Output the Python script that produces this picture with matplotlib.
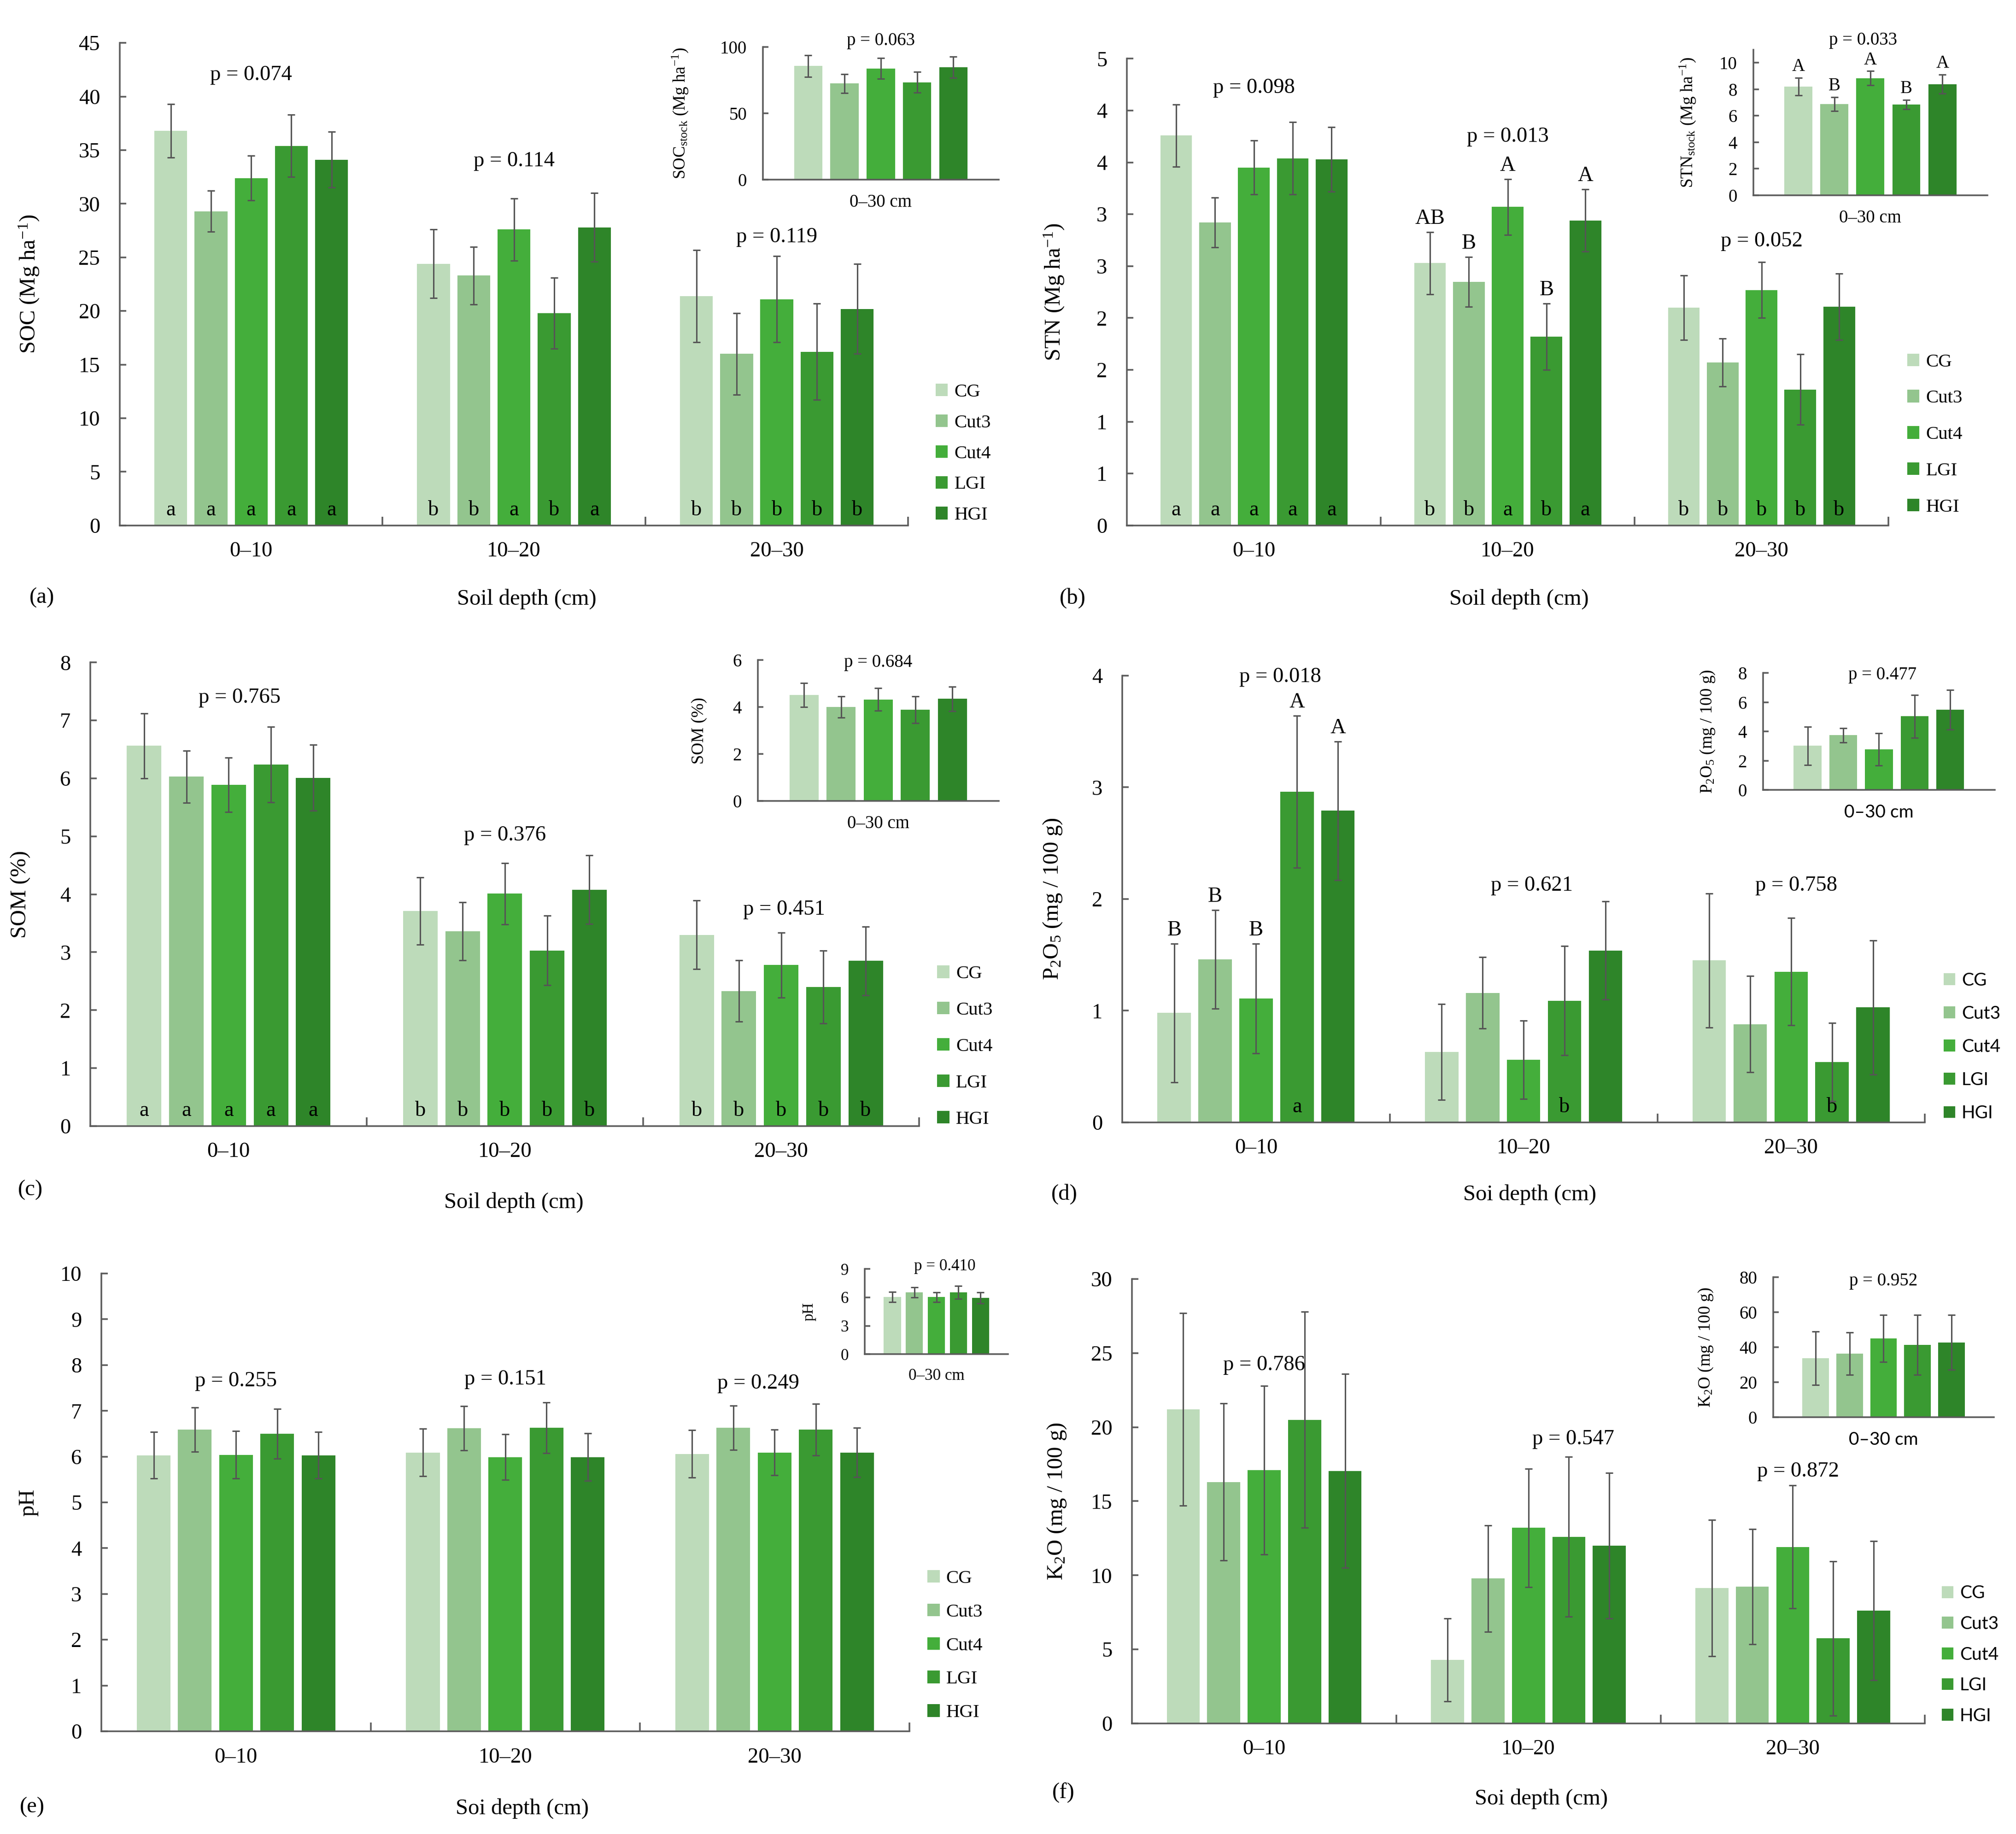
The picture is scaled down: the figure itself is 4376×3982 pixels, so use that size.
import numpy as np
import matplotlib
matplotlib.use('Agg')
import matplotlib.pyplot as plt
from matplotlib.patches import Patch

plt.rcParams['font.family'] = ['Liberation Serif', 'DejaVu Serif']
plt.rcParams['mathtext.fontset'] = 'custom'
plt.rcParams['mathtext.rm'] = 'Liberation Serif'
plt.rcParams['mathtext.it'] = 'Liberation Serif:italic'

# ---------------- data ----------------
GROUPS = ['0–10', '10–20', '20–30']
TREATMENTS = ['CG', 'Cut3', 'Cut4', 'LGI', 'HGI']
COLORS = ['#BDDBBA', '#93C58E', '#44AE3B', '#3A9A32', '#2E8529']

# (a) SOC
soc_mean = [[36.8, 29.3, 32.4, 35.4, 34.1],
            [24.4, 23.3, 27.6, 19.8, 27.8],
            [21.4, 16.0, 21.1, 16.2, 20.2]]
soc_err = [[2.5, 1.9, 2.1, 2.9, 2.6],
           [3.2, 2.7, 2.9, 3.3, 3.2],
           [4.3, 3.8, 4.0, 4.5, 4.2]]
soc_p = ['p = 0.074', 'p = 0.114', 'p = 0.119']
soc_low = [['a', 'a', 'a', 'a', 'a'], ['b', 'b', 'a', 'b', 'a'], ['b', 'b', 'b', 'b', 'b']]
socstock_mean = [85.6, 72.5, 83.8, 73.4, 84.7]
socstock_err = [8.1, 7.1, 7.8, 7.7, 8.1]
socstock_p = 'p = 0.063'

# (b) STN
stn_mean = [[3.76, 2.92, 3.45, 3.54, 3.53],
            [2.53, 2.35, 3.07, 1.82, 2.94],
            [2.10, 1.57, 2.27, 1.31, 2.11]]
stn_err = [[0.30, 0.24, 0.26, 0.35, 0.31],
           [0.30, 0.24, 0.27, 0.32, 0.30],
           [0.31, 0.23, 0.27, 0.34, 0.32]]
stn_p = ['p = 0.098', 'p = 0.013', 'p = 0.052']
stn_low = [['a', 'a', 'a', 'a', 'a'], ['b', 'b', 'a', 'b', 'a'], ['b', 'b', 'b', 'b', 'b']]
stn_up = [['', '', '', '', ''], ['AB', 'B', 'A', 'B', 'A'], ['', '', '', '', '']]
stn_ticks = [0, 0.5, 1, 1.5, 2, 2.5, 3, 3.5, 4, 4.5]
stn_ticklabels = ['0', '1', '1', '2', '2', '3', '3', '4', '4', '5']
stnstock_mean = [8.20, 6.87, 8.84, 6.84, 8.39]
stnstock_err = [0.67, 0.53, 0.53, 0.35, 0.71]
stnstock_up = ['A', 'B', 'A', 'B', 'A']
stnstock_p = 'p = 0.033'

# (c) SOM
som_mean = [[6.56, 6.03, 5.89, 6.24, 6.01],
            [3.71, 3.36, 4.01, 3.03, 4.08],
            [3.30, 2.33, 2.78, 2.40, 2.85]]
som_err = [[0.56, 0.45, 0.47, 0.65, 0.57],
           [0.58, 0.50, 0.53, 0.60, 0.59],
           [0.59, 0.53, 0.56, 0.63, 0.59]]
som_p = ['p = 0.765', 'p = 0.376', 'p = 0.451']
som_low = [['a', 'a', 'a', 'a', 'a'], ['b', 'b', 'b', 'b', 'b'], ['b', 'b', 'b', 'b', 'b']]
somstock_mean = [4.52, 4.00, 4.32, 3.88, 4.35]
somstock_err = [0.51, 0.45, 0.48, 0.57, 0.52]
somstock_p = 'p = 0.684'

# (d) P2O5
p2o5_mean = [[0.98, 1.46, 1.11, 2.96, 2.79],
             [0.63, 1.16, 0.56, 1.09, 1.54],
             [1.45, 0.88, 1.35, 0.54, 1.03]]
p2o5_err = [[0.62, 0.44, 0.49, 0.68, 0.62],
            [0.43, 0.32, 0.35, 0.49, 0.44],
            [0.60, 0.43, 0.48, 0.35, 0.60]]
p2o5_p = ['p = 0.018', 'p = 0.621', 'p = 0.758']
p2o5_low = [['', '', '', 'a', ''], ['', '', '', 'b', ''], ['', '', '', 'b', '']]
p2o5_up = [['B', 'B', 'B', 'A', 'A'], ['', '', '', '', ''], ['', '', '', '', '']]
p2o5stock_mean = [3.02, 3.74, 2.78, 5.03, 5.48]
p2o5stock_err = [1.31, 0.48, 1.10, 1.47, 1.34]
p2o5stock_p = 'p = 0.477'

# (e) pH
ph_mean = [[6.03, 6.59, 6.04, 6.50, 6.03],
           [6.09, 6.62, 5.99, 6.63, 5.99],
           [6.06, 6.63, 6.09, 6.59, 6.09]]
ph_err = [[0.51, 0.48, 0.52, 0.54, 0.51],
          [0.52, 0.48, 0.50, 0.55, 0.52],
          [0.52, 0.48, 0.50, 0.56, 0.54]]
ph_p = ['p = 0.255', 'p = 0.151', 'p = 0.249']
phstock_mean = [6.03, 6.53, 6.03, 6.53, 5.95]
phstock_err = [0.54, 0.54, 0.50, 0.66, 0.58]
phstock_p = 'p = 0.410'

# (f) K2O
k2o_mean = [[21.2, 16.3, 17.1, 20.5, 17.05],
            [4.28, 9.78, 13.2, 12.6, 12.0],
            [9.15, 9.23, 11.92, 5.74, 7.61]]
k2o_err = [[6.5, 5.3, 5.7, 7.3, 6.55],
           [2.8, 3.6, 4.0, 5.4, 4.9],
           [4.6, 3.9, 4.15, 5.2, 4.7]]
k2o_p = ['p = 0.786', 'p = 0.547', 'p = 0.872']
k2ostock_mean = [33.7, 36.4, 44.9, 41.3, 42.7]
k2ostock_err = [15.2, 12.1, 13.4, 17.2, 15.6]
k2ostock_p = 'p = 0.952'

# ---------------- drawing helpers ----------------
SPINE = '#5a5a5a'
ERRC = '#555555'
OFFS = (np.arange(5) - 2) * 0.153
SANS = ['Lato', 'DejaVu Sans']


def style_axes(ax):
    for s in ['top', 'right']:
        ax.spines[s].set_visible(False)
    for s in ['left', 'bottom']:
        ax.spines[s].set_color(SPINE)
        ax.spines[s].set_linewidth(0.9)


def main_panel(ax, means, errs, ylim, yticks, ylabel, ylab_x, p_texts, p_pos,
               yticklabels=None, low=None, up=None):
    means = np.array(means)
    errs = np.array(errs)
    style_axes(ax)
    for t in range(5):
        x = np.arange(3) + OFFS[t]
        ax.bar(x, means[:, t], width=0.125, color=COLORS[t], zorder=2)
        ax.errorbar(x, means[:, t], yerr=errs[:, t], fmt='none', ecolor=ERRC,
                    elinewidth=0.8, capsize=2, capthick=0.8, zorder=3)
        for g in range(3):
            if low is not None and low[g][t]:
                ax.annotate(low[g][t], (x[g], 0), xytext=(0, 3), textcoords='offset points',
                            ha='center', va='bottom', fontsize=12, zorder=4)
            if up is not None and up[g][t]:
                ax.annotate(up[g][t], (x[g], means[g, t] + errs[g, t]), xytext=(0, 2),
                            textcoords='offset points', ha='center', va='bottom', fontsize=12)
    for txt, (px, py) in zip(p_texts, p_pos):
        ax.text(px, py, txt, ha='center', va='center', fontsize=12)
    ax.set_xlim(-0.5, 2.5)
    ax.set_ylim(0, ylim)
    ax.set_xticks([0, 1, 2])
    ax.set_xticklabels(GROUPS, fontsize=12)
    ax.set_xticks([0.5, 1.5, 2.5], minor=True)
    ax.tick_params(axis='x', which='major', length=0, pad=9)
    ax.tick_params(axis='x', which='minor', direction='in', length=5, color=SPINE, width=0.9)
    ax.set_yticks(yticks)
    if yticklabels is not None:
        ax.set_yticklabels(yticklabels)
    ax.tick_params(axis='y', direction='in', length=3.5, color=SPINE, width=0.9,
                   pad=11, labelsize=12)
    ax.set_ylabel(ylabel, fontsize=12.5)
    ax.yaxis.set_label_coords(ylab_x, 0.5)


def inset_panel(ax, means, errs, ylim, yticks, ylabel, ylab_x, p_text, p_pos,
                up=None, xlab_family=None, fs=10):
    style_axes(ax)
    x = np.arange(5)
    ax.bar(x, means, width=0.78, color=COLORS, zorder=2)
    ax.errorbar(x, means, yerr=errs, fmt='none', ecolor=ERRC, elinewidth=0.8,
                capsize=2, capthick=0.8, zorder=3)
    if up is not None:
        for i in range(5):
            ax.annotate(up[i], (x[i], means[i] + errs[i]), xytext=(0, 1.5),
                        textcoords='offset points', ha='center', va='bottom', fontsize=fs)
    ax.text(p_pos[0], p_pos[1], p_text, ha='center', va='center', fontsize=fs, clip_on=False)
    ax.set_xlim(-1.25, 5.25)
    ax.set_ylim(0, ylim)
    ax.set_xticks([])
    ax.set_yticks(yticks)
    ax.tick_params(axis='y', direction='in', length=3, color=SPINE, width=0.9,
                   pad=9, labelsize=fs)
    if xlab_family:
        ax.set_xlabel('0–30 cm', fontsize=fs, labelpad=8, family=xlab_family)
    else:
        ax.set_xlabel('0–30 cm', fontsize=fs, labelpad=8)
    ax.set_ylabel(ylabel, fontsize=fs - 0.5)
    ax.yaxis.set_label_coords(ylab_x, 0.5)


def add_legend(ax, x, y, row_px, fs=10.5, family=None):
    handles = [Patch(facecolor=c, edgecolor='none') for c in COLORS]
    row_pt = row_px / 280 * 72
    prop = {'size': fs}
    if family:
        prop['family'] = family
    ax.legend(handles, TREATMENTS, loc='center left', bbox_to_anchor=(x, y),
              bbox_transform=fig.transFigure, frameon=False, borderpad=0,
              borderaxespad=0, handlelength=0.65, handleheight=0.65,
              handletextpad=0.35, labelspacing=row_pt / fs - 0.91, prop=prop)


fig = plt.figure(figsize=(4376 / 280, 3982 / 280), dpi=280)

# (a)
ax = fig.add_axes([0.0594, 0.7135, 0.3911, 0.2631])
main_panel(ax, soc_mean, soc_err, 45, np.arange(0, 46, 5), 'SOC (Mg ha$^{-1}$)', -0.1,
           soc_p, [(0, 42.0), (1, 34.0), (2, 26.9)], low=soc_low)
add_legend(ax, 0.4641, 0.7526, 67)
ins = fig.add_axes([0.3784, 0.902, 0.117, 0.0724])
inset_panel(ins, socstock_mean, socstock_err, 100, [0, 50, 100],
            'SOC$_{\\mathrm{stock}}$ (Mg ha$^{-1}$)', -0.31, socstock_p, (2, 104.8))

# (b)
ax = fig.add_axes([0.559, 0.7135, 0.3777, 0.2545])
main_panel(ax, stn_mean, stn_err, 4.5, stn_ticks, 'STN (Mg ha$^{-1}$)', -0.08,
           stn_p, [(0, 4.22), (1, 3.75), (2, 2.74)], yticklabels=stn_ticklabels,
           low=stn_low, up=stn_up)
add_legend(ax, 0.946, 0.763, 79)
ins = fig.add_axes([0.8697, 0.8936, 0.1161, 0.0794])
inset_panel(ins, stnstock_mean, stnstock_err, 11, [0, 2, 4, 6, 8, 10],
            'STN$_{\\mathrm{stock}}$ (Mg ha$^{-1}$)', -0.24, stnstock_p, (1.8, 11.7),
            up=stnstock_up)

# (c)
ax = fig.add_axes([0.0449, 0.386, 0.4111, 0.2528])
main_panel(ax, som_mean, som_err, 8, np.arange(0, 9, 1), 'SOM (%)', -0.072,
           som_p, [(0.04, 7.39), (1, 5.02), (2.01, 3.74)], low=som_low)
add_legend(ax, 0.4649, 0.4293, 79)
ins = fig.add_axes([0.3758, 0.5633, 0.1196, 0.0768])
inset_panel(ins, somstock_mean, somstock_err, 6, [0, 2, 4, 6],
            'SOM (%)', -0.21, somstock_p, (2, 5.9))

# (d)
ax = fig.add_axes([0.5567, 0.388, 0.3981, 0.2436])
main_panel(ax, p2o5_mean, p2o5_err, 4, np.arange(0, 5, 1), 'P$_2$O$_5$ (mg / 100 g)', -0.073,
           p2o5_p, [(0.09, 3.99), (1.03, 2.12), (2.02, 2.12)], low=p2o5_low, up=p2o5_up)
add_legend(ax, 0.9641, 0.4292, 71.5, fs=10, family=SANS)
ins = fig.add_axes([0.8745, 0.5693, 0.115, 0.0638])
inset_panel(ins, p2o5stock_mean, p2o5stock_err, 8, [0, 2, 4, 6, 8],
            'P$_2$O$_5$ (mg / 100 g)', -0.2, p2o5stock_p, (2.1, 7.86), xlab_family=SANS)

# (e)
ax = fig.add_axes([0.0503, 0.056, 0.4007, 0.2496])
main_panel(ax, ph_mean, ph_err, 10, np.arange(0, 11, 1), 'pH', -0.078,
           ph_p, [(0, 7.65), (1, 7.69), (1.94, 7.6)])
add_legend(ax, 0.460, 0.1027, 73)
ins = fig.add_axes([0.429, 0.2616, 0.071, 0.0465])
inset_panel(ins, phstock_mean, phstock_err, 9, [0, 3, 6, 9],
            'pH', -0.34, phstock_p, (2.37, 9.26), fs=9)

# (f)
ax = fig.add_axes([0.5615, 0.0603, 0.3933, 0.2423])
main_panel(ax, k2o_mean, k2o_err, 30, np.arange(0, 31, 5), 'K$_2$O (mg / 100 g)', -0.081,
           k2o_p, [(0, 24.2), (1.17, 19.2), (2.02, 17.0)])
add_legend(ax, 0.9632, 0.0978, 66, fs=10, family=SANS)
ins = fig.add_axes([0.8796, 0.2273, 0.1094, 0.0763])
inset_panel(ins, k2ostock_mean, k2ostock_err, 80, [0, 20, 40, 60, 80],
            'K$_2$O (mg / 100 g)', -0.265, k2ostock_p, (2, 77.8), xlab_family=SANS)

# x labels and panel letters
xlabels = [(0.2612, 0.6735, 'Soil depth (cm)'), (0.7534, 0.6735, 'Soil depth (cm)'),
           (0.2548, 0.3443, 'Soil depth (cm)'), (0.7589, 0.3486, 'Soi depth (cm)'),
           (0.2591, 0.0138, 'Soi depth (cm)'), (0.7646, 0.0191, 'Soi depth (cm)')]
for x, y, s in xlabels:
    fig.text(x, y, s, ha='center', va='center', fontsize=12.5)
letters = [(0.0208, 0.674, '(a)'), (0.532, 0.674, '(b)'), (0.015, 0.351, '(c)'),
           (0.528, 0.349, '(d)'), (0.016, 0.0146, '(e)'), (0.5275, 0.0226, '(f)')]
for x, y, s in letters:
    fig.text(x, y, s, ha='center', va='center', fontsize=12.5)

fig.savefig('out.png', dpi=280, facecolor='white')
